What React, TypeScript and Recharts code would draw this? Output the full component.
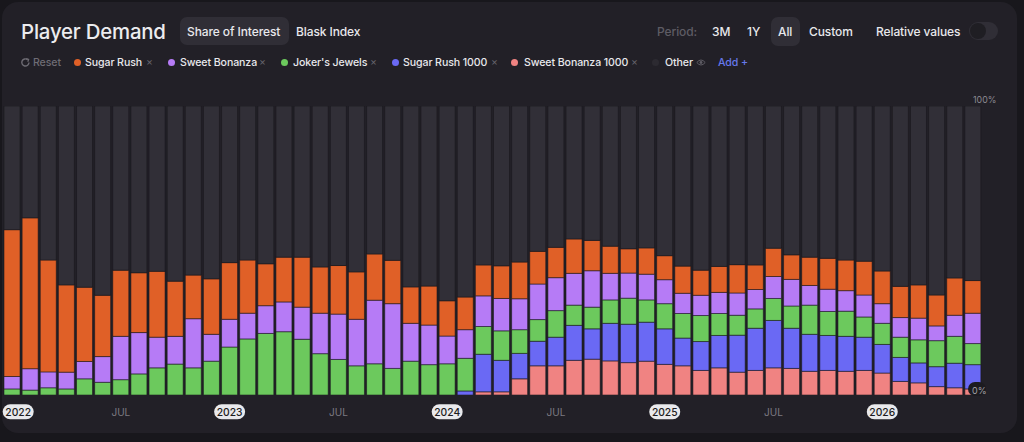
import React from "react";
import { BarChart, Bar, XAxis, YAxis } from "recharts";

// one entry per month, Jan 2022 - Jun 2026
const months = [
  "2022-01", "2022-02", "2022-03", "2022-04", "2022-05", "2022-06",
  "2022-07", "2022-08", "2022-09", "2022-10", "2022-11", "2022-12",
  "2023-01", "2023-02", "2023-03", "2023-04", "2023-05", "2023-06",
  "2023-07", "2023-08", "2023-09", "2023-10", "2023-11", "2023-12",
  "2024-01", "2024-02", "2024-03", "2024-04", "2024-05", "2024-06",
  "2024-07", "2024-08", "2024-09", "2024-10", "2024-11", "2024-12",
  "2025-01", "2025-02", "2025-03", "2025-04", "2025-05", "2025-06",
  "2025-07", "2025-08", "2025-09", "2025-10", "2025-11", "2025-12",
  "2026-01", "2026-02", "2026-03", "2026-04", "2026-05", "2026-06",
];

// share of interest, %
const sugarRush = [
  50.8, 52.2, 38.7, 30.2, 25.7, 21.2, 22.9, 20.7, 22.8, 19.1, 15.1, 19.2,
  19.6, 18.4, 14.5, 15.5, 17.3, 16.0, 16.8, 16.4, 16.0, 15.0, 12.6, 13.5,
  12.2, 11.3, 10.7, 11.3, 12.7, 11.3, 10.5, 11.9, 10.5, 9.4, 8.4, 9.1,
  8.3, 9.4, 8.7, 9.0, 9.8, 8.5, 9.8, 8.5, 9.8, 10.7, 10.6, 11.7,
  11.3, 10.8, 11.5, 10.7, 12.9, 11.3,
];
const sweetBonanza = [
  4.3, 7.4, 5.5, 5.8, 6.0, 8.9, 15.0, 14.3, 10.6, 9.6, 17.0, 9.3,
  9.6, 8.9, 9.6, 10.3, 11.1, 14.0, 15.7, 16.1, 22.0, 22.4, 13.1, 13.7,
  9.6, 9.9, 10.6, 11.2, 10.7, 12.3, 11.4, 11.0, 12.6, 9.2, 8.7, 8.9,
  8.3, 7.0, 7.0, 7.3, 7.7, 6.7, 7.6, 9.2, 6.8, 7.7, 7.1, 7.6,
  6.8, 6.8, 7.5, 5.1, 7.3, 10.5,
];
const jokersJewels = [
  2.1, 1.7, 2.5, 2.1, 5.6, 4.4, 5.3, 7.3, 9.4, 10.7, 9.4, 11.7,
  16.6, 19.4, 21.3, 21.9, 19.3, 14.3, 12.3, 10.1, 10.8, 9.2, 11.7, 10.5,
  10.8, 11.3, 9.6, 10.2, 8.2, 7.5, 9.2, 7.0, 7.5, 8.1, 9.0, 7.7,
  8.7, 8.5, 9.0, 7.6, 6.9, 6.7, 7.6, 7.7, 10.1, 8.3, 8.7, 7.0,
  7.3, 7.0, 8.0, 9.0, 9.3, 7.3,
];
const sugarRush1000 = [
  0, 0, 0, 0, 0, 0, 0, 0, 0, 0, 0, 0,
  0, 0, 0, 0, 0, 0, 0, 0, 0, 0, 0, 0,
  0, 1.4, 13.0, 10.9, 8.8, 8.5, 9.9, 12.1, 10.5, 13.0, 13.3, 13.5,
  12.3, 9.6, 10.0, 11.2, 12.8, 14.6, 16.4, 13.9, 12.8, 12.1, 12.1, 11.5,
  9.9, 8.3, 6.9, 6.9, 8.5, 8.4,
];
const sweetBonanza1000 = [
  0, 0, 0, 0, 0, 0, 0, 0, 0, 0, 0, 0,
  0, 0, 0, 0, 0, 0, 0, 0, 0, 0, 0, 0,
  0, 0, 1.1, 1.1, 5.6, 10.1, 10.1, 12.0, 12.4, 11.8, 11.2, 11.7,
  10.6, 10.1, 8.5, 9.4, 7.9, 8.5, 9.4, 9.2, 8.2, 8.5, 8.2, 8.5,
  7.6, 4.7, 4.2, 2.9, 2.5, 2.1,
];
const other = [
  42.8, 38.7, 53.3, 61.9, 62.7, 65.5, 56.8, 57.7, 57.2, 60.6, 58.5, 59.8,
  54.2, 53.3, 54.6, 52.3, 52.3, 55.7, 55.2, 57.4, 51.2, 53.4, 62.6, 62.3,
  67.4, 66.1, 55.0, 55.3, 54.0, 50.3, 48.9, 46.0, 46.5, 48.5, 49.4, 49.1,
  51.8, 55.4, 56.8, 55.5, 54.9, 55.0, 49.2, 51.5, 52.3, 52.7, 53.3, 53.7,
  57.1, 62.4, 61.9, 65.4, 59.5, 60.4,
];

const tickMonths = [
  "2022-01", "2022-07", "2023-01", "2023-07", "2024-01",
  "2024-07", "2025-01", "2025-07", "2026-01",
];
const tickLabels = ["2022", "JUL", "2023", "JUL", "2024", "JUL", "2025", "JUL", "2026"];

const series = [
  { key: "sweetBonanza1000", name: "Sweet Bonanza 1000", color: "#f08382" },
  { key: "sugarRush1000", name: "Sugar Rush 1000", color: "#6a69f4" },
  { key: "jokersJewels", name: "Joker's Jewels", color: "#6cc95d" },
  { key: "sweetBonanza", name: "Sweet Bonanza", color: "#b67bf6" },
  { key: "sugarRush", name: "Sugar Rush", color: "#e06027" },
  { key: "other", name: "Other", color: "#312f37" },
];

const data = months.map((m, i) => ({
  month: m,
  sugarRush: sugarRush[i],
  sweetBonanza: sweetBonanza[i],
  jokersJewels: jokersJewels[i],
  sugarRush1000: sugarRush1000[i],
  sweetBonanza1000: sweetBonanza1000[i],
  other: other[i],
}));

const FONT = "Inter, 'Noto Sans', sans-serif";

const Txt = ({ x, y, size = 12, weight = 500, color = "#e8e8ec", ls = 0, children }: any) => (
  <div
    style={{
      position: "absolute",
      left: x,
      top: y,
      transform: "translateY(-50%)",
      fontSize: size,
      fontWeight: weight,
      color,
      letterSpacing: ls,
      lineHeight: 1,
      whiteSpace: "nowrap",
      fontFamily: FONT,
    }}
  >
    {children}
  </div>
);

const Pill = ({ x, y, w, h }: any) => (
  <div
    style={{
      position: "absolute",
      left: x,
      top: y,
      width: w,
      height: h,
      borderRadius: 7,
      background: "#302e36",
    }}
  />
);

const Dot = ({ x, color }: any) => (
  <div
    style={{
      position: "absolute",
      left: x - 3.5,
      top: 62.5 - 3.5,
      width: 7,
      height: 7,
      borderRadius: 4,
      background: color,
    }}
  />
);

const Close = ({ x }: any) => (
  <Txt x={x - 3} y={62} size={10.5} weight={400} color="#65636b">
    ×
  </Txt>
);

const Legend = ({ x, children }: any) => (
  <Txt x={x} y={62.5} size={10.6} ls={-0.1}>
    {children}
  </Txt>
);

const Head = ({ x, color, children }: any) => (
  <Txt x={x} y={31.5} size={12} ls={-0.1} color={color}>
    {children}
  </Txt>
);

const AxisTick = ({ x, y, payload }: any) => {
  const label = tickLabels[tickMonths.indexOf(payload.value)];
  if (label === "JUL") {
    return (
      <text x={x} y={y + 16.5} textAnchor="middle" dominantBaseline="central" fontSize={10} fill="#7c7a82" fontFamily={FONT}>
        JUL
      </text>
    );
  }
  const cx = Math.max(x, 18.2);
  return (
    <g>
      <rect x={cx - 15.5} y={y + 9.3} width={31} height={15} rx={7.5} fill="#e9e9ec" />
      <text x={cx} y={y + 16.8} textAnchor="middle" dominantBaseline="central" fontSize={10.3} fontWeight={500} fill="#1c1b20" fontFamily={FONT}>
        {label}
      </text>
    </g>
  );
};

export default function App() {
  return (
    <div style={{ position: "fixed", left: 0, top: 0, width: 1024, height: 442, background: "#18171c", overflow: "hidden" }}>
      <div style={{ position: "absolute", left: 2, top: 2, width: 1015, height: 431, borderRadius: 16, background: "#222027" }} />

      <Txt x={21} y={32} size={20.4} weight={500} ls={-0.2} color="#ececef">
        Player Demand
      </Txt>
      <Pill x={180} y={17} w={109} h={28} />
      <Head x={187}>Share of Interest</Head>
      <Head x={296}>Blask Index</Head>

      <Head x={657} color="#5e5c64">Period:</Head>
      <Head x={712}>3M</Head>
      <Head x={747}>1Y</Head>
      <Pill x={771} y={17} w={29} h={29} />
      <Head x={778}>All</Head>
      <Head x={809}>Custom</Head>
      <Head x={876}>Relative values</Head>
      <div style={{ position: "absolute", left: 969, top: 22, width: 29, height: 18, borderRadius: 9, background: "#302e36" }} />
      <div style={{ position: "absolute", left: 970, top: 23, width: 16, height: 16, borderRadius: 8, background: "#1f1e23" }} />

      <svg style={{ position: "absolute", left: 20, top: 57 }} width={11} height={11} viewBox="0 0 11 11">
        <path d="M9 5.5 A3.6 3.6 0 1 1 7.6 2.6" fill="none" stroke="#6e6c74" strokeWidth={1.4} />
        <path d="M6.2 1.6 L8.6 2.4 L7.8 4.8" fill="none" stroke="#6e6c74" strokeWidth={1.2} />
      </svg>
      <Txt x={33} y={62.5} size={10.6} ls={-0.1} color="#6e6c74">Reset</Txt>

      <Dot x={77} color="#e06027" />
      <Legend x={85}>Sugar Rush</Legend>
      <Close x={149} />
      <Dot x={171} color="#b67bf6" />
      <Legend x={180}>Sweet Bonanza</Legend>
      <Close x={262} />
      <Dot x={284} color="#6cc95d" />
      <Legend x={293}>Joker's Jewels</Legend>
      <Close x={373} />
      <Dot x={395} color="#6a69f4" />
      <Legend x={403}>Sugar Rush 1000</Legend>
      <Close x={494} />
      <Dot x={514} color="#f08382" />
      <Legend x={524}>Sweet Bonanza 1000</Legend>
      <Close x={634} />
      <Dot x={655} color="#2c2a31" />
      <Legend x={665}>Other</Legend>
      <svg style={{ position: "absolute", left: 696, top: 58 }} width={10} height={9} viewBox="0 0 10 9">
        <path d="M0.8 4.5 Q5 -0.5 9.2 4.5 Q5 9.5 0.8 4.5 Z" fill="none" stroke="#5e5c64" strokeWidth={1} />
        <circle cx={5} cy={4.5} r={1.4} fill="#5e5c64" />
      </svg>
      <Txt x={718} y={62.5} size={10.6} ls={-0.1} color="#6678ec">Add +</Txt>

      <div style={{ position: "absolute", left: 0, top: 0 }}>
        <BarChart
          width={1024}
          height={442}
          data={data}
          margin={{ top: 106, right: 42, bottom: 0, left: 3 }}
          barCategoryGap={1}
        >
          <YAxis hide domain={[0, 100]} allowDataOverflow />
          <XAxis
            dataKey="month"
            ticks={tickMonths}
            interval={0}
            tick={<AxisTick />}
            tickLine={false}
            axisLine={false}
            tickSize={0}
            tickMargin={0}
            height={47}
          />
          {series.map((s) => (
            <Bar
              key={s.key}
              dataKey={s.key}
              name={s.name}
              stackId="share"
              fill={s.color}
              stroke="rgba(24,22,28,0.55)"
              strokeWidth={1}
              isAnimationActive={false}
            />
          ))}
        </BarChart>
      </div>

      <Txt x={973} y={100} size={8.8} weight={400} color="#8c8a92">100%</Txt>
      <div style={{ position: "absolute", left: 968, top: 382, width: 18, height: 14, borderRadius: 7, background: "#1c1b20" }} />
      <Txt x={972} y={389.5} size={9} weight={400} color="#a3a1a9">0%</Txt>
    </div>
  );
}
